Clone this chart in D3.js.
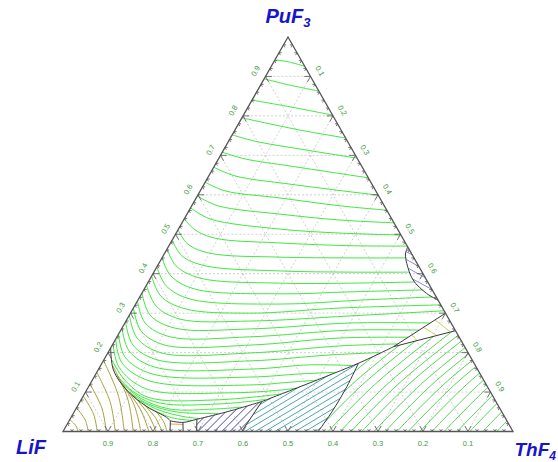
<!DOCTYPE html>
<html>
<head>
<meta charset="utf-8">
<script src="https://cdn.jsdelivr.net/npm/d3@7/dist/d3.min.js"></script>
<style>
body { margin: 0; background: #fff; }
text { font-family: "Liberation Sans", Arial, sans-serif; }
</style>
</head>
<body>
<script>
// every point is a composition [x(ThF4), x(PuF3)]; x(LiF) = 1 - both
var gridValues = [0.1, 0.2, 0.3, 0.4, 0.5, 0.6, 0.7, 0.8, 0.9];
var tickLabels = ['0.1', '0.2', '0.3', '0.4', '0.5', '0.6', '0.7', '0.8', '0.9'];

// liquidus isotherms, PuF3 primary field
var puLines = [
  [[0,0.942],[0.032,0.937],[0.074,0.926]],
  [[0,0.894],[0.065,0.878],[0.137,0.863]],
  [[0,0.840],[0.093,0.823],[0.198,0.802]],
  [[0,0.795],[0.046,0.785],[0.145,0.764],[0.256,0.744]],
  [[0,0.752],[0.058,0.736],[0.169,0.716],[0.307,0.693]],
  [[0,0.708],[0.059,0.691],[0.168,0.673],[0.357,0.643]],
  [[0,0.670],[0.058,0.648],[0.191,0.627],[0.401,0.599]],
  [[0,0.632],[0.055,0.610],[0.186,0.592],[0.330,0.572],[0.439,0.561]],
  [[0,0.597],[0.059,0.572],[0.207,0.551],[0.348,0.536],[0.471,0.529]],
  [[0,0.567],[0.057,0.539],[0.226,0.513],[0.364,0.503],[0.502,0.498]],
  [[0,0.539],[0.038,0.511],[0.093,0.490],[0.243,0.478],[0.402,0.471],[0.530,0.470]],
  [[0,0.511],[0.040,0.475],[0.100,0.452],[0.261,0.442],[0.418,0.440],[0.544,0.440]],
  [[0,0.485],[0.042,0.445],[0.106,0.420],[0.279,0.407],[0.436,0.404],[0.567,0.404]],
  [[0,0.463],[0.041,0.420],[0.110,0.389],[0.294,0.376],[0.450,0.376],[0.593,0.379]],
  [[0,0.440],[0.043,0.394],[0.113,0.361],[0.308,0.349],[0.461,0.354],[0.621,0.359]],
  [[0,0.417],[0.045,0.369],[0.114,0.336],[0.321,0.323],[0.493,0.333],[0.650,0.341]],
  [[0,0.394],[0.046,0.343],[0.116,0.311],[0.265,0.300],[0.459,0.313],[0.679,0.321]],
  [[0,0.371],[0.048,0.318],[0.117,0.285],[0.276,0.280],[0.491,0.293],[0.694,0.306]],
  [[0,0.351],[0.046,0.295],[0.118,0.262],[0.286,0.260],[0.500,0.275],[0.678,0.275]],
  [[0,0.331],[0.045,0.275],[0.118,0.240],[0.296,0.240],[0.509,0.257],[0.663,0.257]],
  [[0,0.313],[0.046,0.255],[0.117,0.219],[0.306,0.219],[0.497,0.237],[0.648,0.239]],
  [[0,0.295],[0.046,0.237],[0.120,0.199],[0.316,0.199],[0.507,0.217],[0.633,0.222]],
  [[0,0.278],[0.046,0.219],[0.121,0.181],[0.326,0.179],[0.496,0.194],[0.604,0.200]],
  [[0,0.262],[0.045,0.204],[0.123,0.163],[0.336,0.158],[0.465,0.169],[0.560,0.167]],
  [[0,0.247],[0.043,0.189],[0.125,0.146],[0.347,0.138],[0.454,0.146],[0.531,0.150]],
  [[0,0.234],[0.044,0.174],[0.129,0.128],[0.357,0.118],[0.442,0.125],[0.498,0.130]],
  [[0,0.222],[0.043,0.163],[0.131,0.108],[0.322,0.098],[0.430,0.105],[0.464,0.110]],
  [[0.018,0.181],[0.069,0.133],[0.145,0.087],[0.298,0.080],[0.437,0.095]],
  [[0.045,0.146],[0.102,0.103],[0.180,0.072],[0.314,0.070],[0.409,0.081]],
  [[0.070,0.123],[0.129,0.085],[0.209,0.057],[0.309,0.057],[0.367,0.062]],
  [[0.097,0.100],[0.154,0.070],[0.231,0.049],[0.322,0.046]],
  [[0.128,0.080],[0.184,0.055],[0.253,0.037],[0.288,0.033]],
  [[0.156,0.062],[0.224,0.035],[0.273,0.028]]
];

// LiF primary field
var lifLines = [
  [[0,0.030],[0.022,0.014],[0.033,0]],
  [[0,0.060],[0.035,0.029],[0.056,0]],
  [[0,0.090],[0.046,0.044],[0.076,0]],
  [[0,0.120],[0.057,0.059],[0.096,0]],
  [[0,0.150],[0.068,0.074],[0.116,0]],
  [[0,0.180],[0.079,0.089],[0.136,0]],
  [[0.028,0.166],[0.103,0.082],[0.156,0]],
  [[0.050,0.141],[0.123,0.069],[0.173,0]],
  [[0.078,0.115],[0.144,0.056],[0.191,0]],
  [[0.109,0.093],[0.166,0.045],[0.207,0]],
  [[0.144,0.070],[0.190,0.033],[0.220,0]],
  [[0.181,0.051],[0.211,0.025],[0.231,0]]
];

// ThF4 primary field
var thLines = [
  [[0.511,0],[0.559,0.127],[0.665,0.304]],
  [[0.538,0],[0.586,0.127],[0.692,0.304]],
  [[0.562,0],[0.610,0.127],[0.716,0.304]],
  [[0.589,0],[0.637,0.127],[0.743,0.304]],
  [[0.616,0],[0.664,0.127],[0.770,0.304]],
  [[0.640,0],[0.688,0.127],[0.794,0.304]],
  [[0.664,0],[0.712,0.127],[0.818,0.304]],
  [[0.691,0],[0.739,0.127],[0.845,0.304]],
  [[0.716,0],[0.764,0.127],[0.870,0.304]],
  [[0.742,0],[0.790,0.127],[0.896,0.304]],
  [[0.767,0],[0.815,0.127],[0.921,0.304]],
  [[0.793,0],[0.841,0.127],[0.947,0.304]],
  [[0.820,0],[0.868,0.127],[0.974,0.304]],
  [[0.847,0],[0.895,0.127],[1.001,0.304]],
  [[0.876,0],[0.924,0.127],[1.030,0.304]],
  [[0.904,0],[0.952,0.127],[1.058,0.304]],
  [[0.933,0],[0.981,0.127],[1.087,0.304]],
  [[0.964,0],[1.012,0.127],[1.118,0.304]]
];

var tealLines = [
  [[0.338,0],[0.582,0.254]], [[0.360,0],[0.604,0.254]], [[0.382,0],[0.626,0.254]],
  [[0.404,0],[0.648,0.254]], [[0.427,0],[0.671,0.254]], [[0.449,0],[0.693,0.254]],
  [[0.471,0],[0.715,0.254]], [[0.493,0],[0.737,0.254]], [[0.516,0],[0.760,0.254]],
  [[0.538,0],[0.782,0.254]], [[0.560,0],[0.804,0.254]]
];

var navyLines = [
  [[0.282,0],[0.339,0.152]], [[0.300,0],[0.357,0.152]], [[0.318,0],[0.375,0.152]],
  [[0.336,0],[0.393,0.152]], [[0.353,0],[0.410,0.152]], [[0.371,0],[0.428,0.152]],
  [[0.389,0],[0.446,0.152]]
];

var blueLines = [
  [[0.496,0.506],[0.627,0.443]], [[0.506,0.485],[0.638,0.423]], [[0.516,0.465],[0.648,0.402]],
  [[0.526,0.445],[0.658,0.382]], [[0.537,0.425],[0.668,0.362]], [[0.547,0.404],[0.678,0.342]],
  [[0.557,0.384],[0.688,0.321]]
];

var yellowLines = [
  [[0.652,0.245],[0.671,0.231]], [[0.669,0.264],[0.708,0.244]], [[0.685,0.283],[0.734,0.253]]
];

var orangeLine = [[0.228,0.019],[0.258,0.018]];

// field boundaries
var lifBoundary = [[0,0.212],[0.034,0.156],[0.089,0.105],[0.155,0.063],[0.212,0.036],[0.225,0.027]];
var puBottom = [[0.225,0.027],[0.255,0.023],[0.282,0.031],[0.345,0.052],[0.404,0.076]];
var puThBoundary = [[0.404,0.076],[0.570,0.173],[0.627,0.215]];
var upperYellow = [[0.627,0.215],[0.700,0.300]];
var lowerYellow = [[0.627,0.215],[0.7445,0.2555]];
var navyRight = [[0.404,0.076],[0.397,0]];
var tealRight = [[0.570,0.173],[0.574,0.114],[0.573,0.055],[0.567,0]];
var blueCurve = [[0.532,0.468],[0.536,0.450],[0.551,0.426],[0.586,0.384],[0.633,0.350],[0.667,0.333]];
var stubs = [
  [[0.225,0.027],[0.238,0]], [[0.255,0.023],[0.267,0]], [[0.282,0.031],[0.297,0]]
];

var thRegion = [[0.567,0],[1,0],[0.7445,0.2555],[0.627,0.215],[0.570,0.173],[0.574,0.114],[0.573,0.055]];
var tealRegion = [[0.397,0],[0.567,0],[0.573,0.055],[0.574,0.114],[0.570,0.173],[0.404,0.076]];
var navyRegion = [[0.282,0.031],[0.297,0],[0.397,0],[0.404,0.076],[0.345,0.052]];
var blueRegion = blueCurve;

var W = 558, H = 462;
var xScale = d3.scaleLinear().domain([0, 1]).range([63, 513]);
var yScale = d3.scaleLinear().domain([0, 1]).range([431.5, 37]);
function px(d) { return xScale(d[0] + d[1] / 2); }
function py(d) { return yScale(d[1]); }

var smooth = d3.line().x(px).y(py).curve(d3.curveCatmullRom.alpha(0.5));
var straight = d3.line().x(px).y(py);

var svg = d3.select('body').append('svg').attr('width', W).attr('height', H);
var defs = svg.append('defs');
function addClip(id, poly) {
  defs.append('clipPath').attr('id', id).append('path').attr('d', straight(poly) + 'Z');
}
addClip('cTh', thRegion);
addClip('cTeal', tealRegion);
addClip('cNavy', navyRegion);
addClip('cBlue', blueRegion);

// dashed grid
var grid = [];
gridValues.forEach(function (v) {
  grid.push([[0, v], [1 - v, v]]);
  grid.push([[v, 0], [v, 1 - v]]);
  grid.push([[1 - v, 0], [0, 1 - v]]);
});
svg.append('g').selectAll('path').data(grid).enter().append('path')
  .attr('d', straight).attr('fill', 'none').attr('stroke', '#c4c4c4')
  .attr('stroke-width', 0.8).attr('stroke-dasharray', '2,2');

function drawSet(data, color, clip, curve) {
  var g = svg.append('g');
  if (clip) g.attr('clip-path', 'url(#' + clip + ')');
  g.selectAll('path').data(data).enter().append('path')
    .attr('d', curve || smooth).attr('fill', 'none').attr('stroke', color).attr('stroke-width', 1);
}
drawSet(puLines, '#40e840');
drawSet(lifLines, '#a8a23c');
drawSet(thLines, '#55d455', 'cTh');
drawSet(tealLines, '#4ea6b4', 'cTeal', straight);
drawSet(navyLines, '#4a4aa6', 'cNavy', straight);
drawSet(blueLines, '#8c8cdc', 'cBlue', straight);
drawSet(yellowLines, '#d2d24a', null, straight);
drawSet([orangeLine], '#f0a040', null, straight);

// boundaries
var bnd = svg.append('g').attr('fill', 'none').attr('stroke', '#3a3a3a').attr('stroke-width', 1);
[lifBoundary, tealRight, blueCurve].forEach(function (b) { bnd.append('path').attr('d', smooth(b)); });
[puBottom, puThBoundary, upperYellow, lowerYellow, navyRight].concat(stubs)
  .forEach(function (b) { bnd.append('path').attr('d', smooth(b)); });

// triangle
svg.append('path').attr('d', straight([[0, 0], [1, 0], [0, 1]]) + 'Z')
  .attr('fill', 'none').attr('stroke', '#555').attr('stroke-width', 1.3);

// ticks
var ticks = [];
d3.range(1, 50).forEach(function (k) {
  var v = k / 50, d = k % 5 === 0 ? 0.014 : 0.006;
  ticks.push([[v, 0], [v, d]], [[v, 0], [v - d, d]]);
  ticks.push([[0, v], [d, v]], [[0, v], [d, v - d]]);
  ticks.push([[1 - v, v], [1 - v - d, v]], [[1 - v, v], [1 - v, v - d]]);
});
svg.append('g').selectAll('path').data(ticks).enter().append('path')
  .attr('d', straight).attr('stroke', '#555').attr('stroke-width', 0.8);

// tick labels
var lab = svg.append('g').attr('fill', '#3c9a3c').attr('font-size', '7.5px').attr('text-anchor', 'middle');
gridValues.forEach(function (v, i) {
  var b = [1 - v, 0], l = [0, v], r = [v, 1 - v];
  lab.append('text').attr('x', px(b)).attr('y', py(b) + 14.5).text(tickLabels[i]);
  lab.append('text').attr('dy', '0.35em')
    .attr('transform', 'translate(' + (px(l) - 10) + ',' + (py(l) - 5.5) + ') rotate(-60)')
    .text(tickLabels[i]);
  lab.append('text').attr('dy', '0.35em')
    .attr('transform', 'translate(' + (px(r) + 9.5) + ',' + (py(r) - 5.5) + ') rotate(60)')
    .text(tickLabels[i]);
});

// corner labels
var cl = svg.append('g').attr('fill', '#1616c8').attr('font-weight', 'bold')
  .attr('font-style', 'italic').attr('font-size', '20px');
var t1 = cl.append('text').attr('x', px([0, 1])).attr('y', py([0, 1]) - 14).attr('text-anchor', 'middle');
t1.append('tspan').text('PuF');
t1.append('tspan').attr('font-size', '13px').attr('dy', 4).text('3');
cl.append('text').attr('x', px([0, 0]) - 17).attr('y', py([0, 0]) + 22).attr('text-anchor', 'end').text('LiF');
var t2 = cl.append('text').attr('x', W - 2).attr('y', py([1, 0]) + 24).attr('text-anchor', 'end')
  .attr('font-size', '19px');
t2.append('tspan').text('ThF');
t2.append('tspan').attr('font-size', '12px').attr('dy', 4).text('4');
</script>
</body>
</html>
